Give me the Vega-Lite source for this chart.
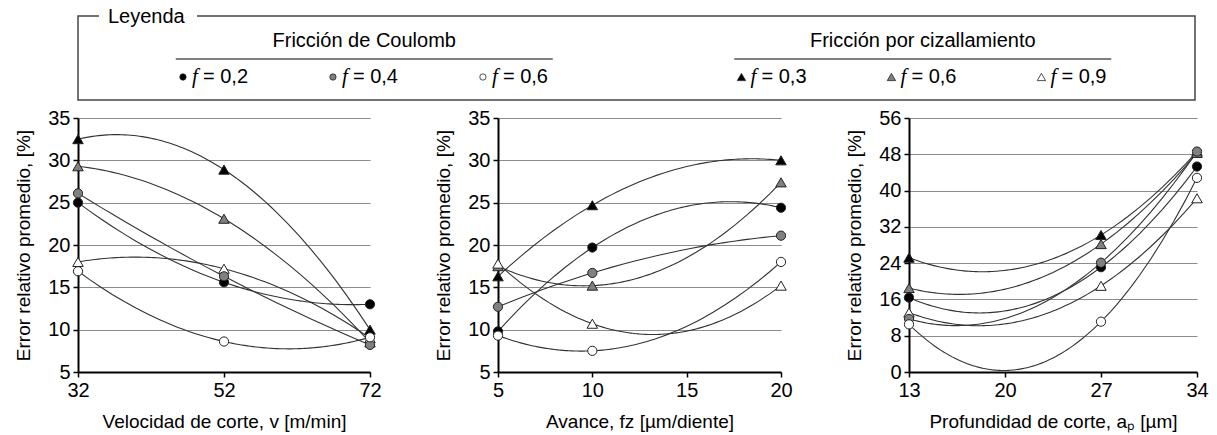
{
  "$schema": "https://vega.github.io/schema/vega-lite/v6.json",
  "padding": {"left": 14, "top": 6, "right": 4, "bottom": 2},
  "datasets": {
    "puntos": [
      {"panel": "v", "grupo": "Coulomb", "serie": "c02", "x": 32, "error": 25.0},
      {"panel": "v", "grupo": "Coulomb", "serie": "c02", "x": 52, "error": 15.6},
      {"panel": "v", "grupo": "Coulomb", "serie": "c02", "x": 72, "error": 13.0},
      {"panel": "v", "grupo": "Coulomb", "serie": "c04", "x": 32, "error": 26.1},
      {"panel": "v", "grupo": "Coulomb", "serie": "c04", "x": 52, "error": 16.3},
      {"panel": "v", "grupo": "Coulomb", "serie": "c04", "x": 72, "error": 8.2},
      {"panel": "v", "grupo": "Coulomb", "serie": "c06", "x": 32, "error": 16.9},
      {"panel": "v", "grupo": "Coulomb", "serie": "c06", "x": 52, "error": 8.6},
      {"panel": "v", "grupo": "Coulomb", "serie": "c06", "x": 72, "error": 9.1},
      {"panel": "v", "grupo": "Cizallamiento", "serie": "s03", "x": 32, "error": 32.5},
      {"panel": "v", "grupo": "Cizallamiento", "serie": "s03", "x": 52, "error": 28.9},
      {"panel": "v", "grupo": "Cizallamiento", "serie": "s03", "x": 72, "error": 10.0},
      {"panel": "v", "grupo": "Cizallamiento", "serie": "s06", "x": 32, "error": 29.3},
      {"panel": "v", "grupo": "Cizallamiento", "serie": "s06", "x": 52, "error": 23.1},
      {"panel": "v", "grupo": "Cizallamiento", "serie": "s06", "x": 72, "error": 8.5},
      {"panel": "v", "grupo": "Cizallamiento", "serie": "s09", "x": 32, "error": 18.0},
      {"panel": "v", "grupo": "Cizallamiento", "serie": "s09", "x": 52, "error": 17.2},
      {"panel": "v", "grupo": "Cizallamiento", "serie": "s09", "x": 72, "error": 9.0},

      {"panel": "fz", "grupo": "Coulomb", "serie": "c02", "x": 5, "error": 9.8},
      {"panel": "fz", "grupo": "Coulomb", "serie": "c02", "x": 10, "error": 19.7},
      {"panel": "fz", "grupo": "Coulomb", "serie": "c02", "x": 20, "error": 24.4},
      {"panel": "fz", "grupo": "Coulomb", "serie": "c04", "x": 5, "error": 12.7},
      {"panel": "fz", "grupo": "Coulomb", "serie": "c04", "x": 10, "error": 16.7},
      {"panel": "fz", "grupo": "Coulomb", "serie": "c04", "x": 20, "error": 21.1},
      {"panel": "fz", "grupo": "Coulomb", "serie": "c06", "x": 5, "error": 9.3},
      {"panel": "fz", "grupo": "Coulomb", "serie": "c06", "x": 10, "error": 7.5},
      {"panel": "fz", "grupo": "Coulomb", "serie": "c06", "x": 20, "error": 18.0},
      {"panel": "fz", "grupo": "Cizallamiento", "serie": "s03", "x": 5, "error": 16.3},
      {"panel": "fz", "grupo": "Cizallamiento", "serie": "s03", "x": 10, "error": 24.7},
      {"panel": "fz", "grupo": "Cizallamiento", "serie": "s03", "x": 20, "error": 30.0},
      {"panel": "fz", "grupo": "Cizallamiento", "serie": "s06", "x": 5, "error": 17.5},
      {"panel": "fz", "grupo": "Cizallamiento", "serie": "s06", "x": 10, "error": 15.2},
      {"panel": "fz", "grupo": "Cizallamiento", "serie": "s06", "x": 20, "error": 27.4},
      {"panel": "fz", "grupo": "Cizallamiento", "serie": "s09", "x": 5, "error": 17.8},
      {"panel": "fz", "grupo": "Cizallamiento", "serie": "s09", "x": 10, "error": 10.7},
      {"panel": "fz", "grupo": "Cizallamiento", "serie": "s09", "x": 20, "error": 15.2},

      {"panel": "ap", "grupo": "Coulomb", "serie": "c02", "x": 13, "error": 16.4},
      {"panel": "ap", "grupo": "Coulomb", "serie": "c02", "x": 27, "error": 23.1},
      {"panel": "ap", "grupo": "Coulomb", "serie": "c02", "x": 34, "error": 45.3},
      {"panel": "ap", "grupo": "Coulomb", "serie": "c04", "x": 13, "error": 11.7},
      {"panel": "ap", "grupo": "Coulomb", "serie": "c04", "x": 27, "error": 24.1},
      {"panel": "ap", "grupo": "Coulomb", "serie": "c04", "x": 34, "error": 48.6},
      {"panel": "ap", "grupo": "Coulomb", "serie": "c06", "x": 13, "error": 10.5},
      {"panel": "ap", "grupo": "Coulomb", "serie": "c06", "x": 27, "error": 11.1},
      {"panel": "ap", "grupo": "Coulomb", "serie": "c06", "x": 34, "error": 42.8},
      {"panel": "ap", "grupo": "Cizallamiento", "serie": "s03", "x": 13, "error": 25.2},
      {"panel": "ap", "grupo": "Cizallamiento", "serie": "s03", "x": 27, "error": 30.2},
      {"panel": "ap", "grupo": "Cizallamiento", "serie": "s03", "x": 34, "error": 48.6},
      {"panel": "ap", "grupo": "Cizallamiento", "serie": "s06", "x": 13, "error": 18.5},
      {"panel": "ap", "grupo": "Cizallamiento", "serie": "s06", "x": 27, "error": 28.2},
      {"panel": "ap", "grupo": "Cizallamiento", "serie": "s06", "x": 34, "error": 48.3},
      {"panel": "ap", "grupo": "Cizallamiento", "serie": "s09", "x": 13, "error": 13.1},
      {"panel": "ap", "grupo": "Cizallamiento", "serie": "s09", "x": 27, "error": 19.0},
      {"panel": "ap", "grupo": "Cizallamiento", "serie": "s09", "x": 34, "error": 38.3}
    ],
    "leyenda": [
      {"grupo": "Fricción de Coulomb", "serie": "c02", "nivel": "1", "etiqueta": "= 0,2"},
      {"grupo": "Fricción de Coulomb", "serie": "c04", "nivel": "2", "etiqueta": "= 0,4"},
      {"grupo": "Fricción de Coulomb", "serie": "c06", "nivel": "3", "etiqueta": "= 0,6"},
      {"grupo": "Fricción por cizallamiento", "serie": "s03", "nivel": "1", "etiqueta": "= 0,3"},
      {"grupo": "Fricción por cizallamiento", "serie": "s06", "nivel": "2", "etiqueta": "= 0,6"},
      {"grupo": "Fricción por cizallamiento", "serie": "s09", "nivel": "3", "etiqueta": "= 0,9"}
    ],
    "grupos": [
      {"grupo": "Fricción de Coulomb"},
      {"grupo": "Fricción por cizallamiento"}
    ]
  },
  "bounds": "flush",
  "spacing": 18,
  "vconcat": [
    {
      "width": 1117,
      "height": 84,
      "view": {"stroke": "#444444", "strokeWidth": 1.5, "strokeDash": [21, 98, 2500]},
      "title": {"text": "Leyenda", "anchor": "start", "dx": 30, "offset": -11, "fontSize": 20, "fontWeight": "normal", "font": "Liberation Sans", "color": "#000000"},
      "layer": [
        {
          "data": {"name": "grupos"},
          "mark": {"type": "text", "fontSize": 20, "dx": 7, "dy": -17, "baseline": "middle", "align": "center", "color": "#000000"},
          "encoding": {
            "x": {"field": "grupo", "type": "nominal", "axis": null, "scale": {"type": "band", "domain": ["Fricción de Coulomb", "Fricción por cizallamiento"], "paddingInner": 0, "paddingOuter": 0}},
            "text": {"field": "grupo"}
          }
        },
        {
          "data": {"name": "grupos"},
          "mark": {"type": "tick", "orient": "horizontal", "size": 377, "thickness": 1.5, "color": "#555555", "opacity": 1, "xOffset": 7, "yOffset": 1},
          "encoding": {
            "x": {"field": "grupo", "type": "nominal", "axis": null}
          }
        },
        {
          "data": {"name": "leyenda"},
          "transform": [{"filter": "datum.grupo == 'Fricción de Coulomb'"}],
          "mark": {"type": "point", "shape": "circle", "size": 40, "filled": true, "stroke": "#222222", "strokeWidth": 0.8, "opacity": 1, "yOffset": 19},
          "encoding": {
            "x": {"field": "grupo", "type": "nominal", "axis": null},
            "xOffset": {"field": "nivel", "type": "ordinal", "scale": {"type": "point", "padding": 0.862, "align": 0.406}},
            "fill": {"field": "serie", "type": "nominal", "legend": null, "scale": {"domain": ["c02", "c04", "c06", "s03", "s06", "s09"], "range": ["#000000", "#808080", "#ffffff", "#000000", "#808080", "#ffffff"]}}
          }
        },
        {
          "data": {"name": "leyenda"},
          "transform": [{"filter": "datum.grupo == 'Fricción por cizallamiento'"}],
          "mark": {"type": "point", "shape": "triangle-up", "size": 70, "filled": true, "stroke": "#222222", "strokeWidth": 0.8, "opacity": 1, "yOffset": 19},
          "encoding": {
            "x": {"field": "grupo", "type": "nominal", "axis": null},
            "xOffset": {"field": "nivel", "type": "ordinal", "scale": {"type": "point", "padding": 0.862, "align": 0.406}},
            "fill": {"field": "serie", "type": "nominal", "legend": null, "scale": {"domain": ["c02", "c04", "c06", "s03", "s06", "s09"], "range": ["#000000", "#808080", "#ffffff", "#000000", "#808080", "#ffffff"]}}
          }
        },
        {
          "data": {"name": "leyenda"},
          "mark": {"type": "text", "text": "f", "font": "Liberation Serif", "fontStyle": "italic", "fontSize": 21, "align": "left", "baseline": "middle", "dx": 9, "dy": 19, "color": "#000000"},
          "encoding": {
            "x": {"field": "grupo", "type": "nominal", "axis": null},
            "xOffset": {"field": "nivel", "type": "ordinal", "scale": {"type": "point", "padding": 0.862, "align": 0.406}}
          }
        },
        {
          "data": {"name": "leyenda"},
          "mark": {"type": "text", "fontSize": 20, "align": "left", "baseline": "middle", "dx": 20, "dy": 19, "color": "#000000"},
          "encoding": {
            "x": {"field": "grupo", "type": "nominal", "axis": null},
            "xOffset": {"field": "nivel", "type": "ordinal", "scale": {"type": "point", "padding": 0.862, "align": 0.406}},
            "text": {"field": "etiqueta"}
          }
        }
      ]
    },
    {
      "bounds": "flush",
      "spacing": 128,
      "hconcat": [
        {
          "width": 292,
          "height": 254,
          "data": {"name": "puntos"},
          "transform": [{"filter": "datum.panel == 'v'"}],
          "encoding": {
            "x": {"field": "x", "type": "quantitative", "title": "Velocidad de corte, v [m/min]", "scale": {"domain": [32, 72], "nice": false, "zero": false}, "axis": {"values": [32, 52, 72]}},
            "y": {"field": "error", "type": "quantitative", "title": "Error relativo promedio, [%]", "scale": {"domain": [5, 35], "nice": false, "zero": false}, "axis": {"values": [5, 10, 15, 20, 25, 30, 35]}}
          },
          "layer": [
            {
              "transform": [{"regression": "error", "on": "x", "groupby": ["serie"], "method": "poly", "order": 2}],
              "mark": {"type": "line", "color": "#333333", "strokeWidth": 1.1},
              "encoding": {"detail": {"field": "serie"}}
            },
            {
              "transform": [{"filter": "datum.grupo == 'Cizallamiento'"}],
              "mark": {"type": "point", "shape": "triangle-up", "size": 110, "filled": true, "stroke": "#222222", "strokeWidth": 1, "opacity": 1},
              "encoding": {"fill": {"field": "serie", "type": "nominal", "legend": null, "scale": {"domain": ["c02", "c04", "c06", "s03", "s06", "s09"], "range": ["#000000", "#808080", "#ffffff", "#000000", "#808080", "#ffffff"]}}}
            },
            {
              "transform": [{"filter": "datum.grupo == 'Coulomb'"}],
              "mark": {"type": "point", "shape": "circle", "size": 85, "filled": true, "stroke": "#222222", "strokeWidth": 1, "opacity": 1},
              "encoding": {"fill": {"field": "serie", "type": "nominal", "legend": null, "scale": {"domain": ["c02", "c04", "c06", "s03", "s06", "s09"], "range": ["#000000", "#808080", "#ffffff", "#000000", "#808080", "#ffffff"]}}}
            }
          ]
        },
        {
          "width": 283,
          "height": 254,
          "data": {"name": "puntos"},
          "transform": [{"filter": "datum.panel == 'fz'"}],
          "encoding": {
            "x": {"field": "x", "type": "quantitative", "title": "Avance, fz [µm/diente]", "scale": {"domain": [5, 20], "nice": false, "zero": false}, "axis": {"values": [5, 10, 15, 20]}},
            "y": {"field": "error", "type": "quantitative", "title": "Error relativo promedio, [%]", "scale": {"domain": [5, 35], "nice": false, "zero": false}, "axis": {"values": [5, 10, 15, 20, 25, 30, 35]}}
          },
          "layer": [
            {
              "transform": [{"regression": "error", "on": "x", "groupby": ["serie"], "method": "poly", "order": 2}],
              "mark": {"type": "line", "color": "#333333", "strokeWidth": 1.1},
              "encoding": {"detail": {"field": "serie"}}
            },
            {
              "transform": [{"filter": "datum.grupo == 'Cizallamiento'"}],
              "mark": {"type": "point", "shape": "triangle-up", "size": 110, "filled": true, "stroke": "#222222", "strokeWidth": 1, "opacity": 1},
              "encoding": {"fill": {"field": "serie", "type": "nominal", "legend": null, "scale": {"domain": ["c02", "c04", "c06", "s03", "s06", "s09"], "range": ["#000000", "#808080", "#ffffff", "#000000", "#808080", "#ffffff"]}}}
            },
            {
              "transform": [{"filter": "datum.grupo == 'Coulomb'"}],
              "mark": {"type": "point", "shape": "circle", "size": 85, "filled": true, "stroke": "#222222", "strokeWidth": 1, "opacity": 1},
              "encoding": {"fill": {"field": "serie", "type": "nominal", "legend": null, "scale": {"domain": ["c02", "c04", "c06", "s03", "s06", "s09"], "range": ["#000000", "#808080", "#ffffff", "#000000", "#808080", "#ffffff"]}}}
            }
          ]
        },
        {
          "width": 288,
          "height": 254,
          "data": {"name": "puntos"},
          "transform": [{"filter": "datum.panel == 'ap'"}],
          "encoding": {
            "x": {"field": "x", "type": "quantitative", "title": "Profundidad de corte, aₚ [µm]", "scale": {"domain": [13, 34], "nice": false, "zero": false}, "axis": {"values": [13, 20, 27, 34]}},
            "y": {"field": "error", "type": "quantitative", "title": "Error relativo promedio, [%]", "scale": {"domain": [0, 56], "nice": false, "zero": false}, "axis": {"values": [0, 8, 16, 24, 32, 40, 48, 56]}}
          },
          "layer": [
            {
              "transform": [{"regression": "error", "on": "x", "groupby": ["serie"], "method": "poly", "order": 2}],
              "mark": {"type": "line", "color": "#333333", "strokeWidth": 1.1},
              "encoding": {"detail": {"field": "serie"}}
            },
            {
              "transform": [{"filter": "datum.grupo == 'Cizallamiento'"}],
              "mark": {"type": "point", "shape": "triangle-up", "size": 110, "filled": true, "stroke": "#222222", "strokeWidth": 1, "opacity": 1},
              "encoding": {"fill": {"field": "serie", "type": "nominal", "legend": null, "scale": {"domain": ["c02", "c04", "c06", "s03", "s06", "s09"], "range": ["#000000", "#808080", "#ffffff", "#000000", "#808080", "#ffffff"]}}}
            },
            {
              "transform": [{"filter": "datum.grupo == 'Coulomb'"}],
              "mark": {"type": "point", "shape": "circle", "size": 85, "filled": true, "stroke": "#222222", "strokeWidth": 1, "opacity": 1},
              "encoding": {"fill": {"field": "serie", "type": "nominal", "legend": null, "scale": {"domain": ["c02", "c04", "c06", "s03", "s06", "s09"], "range": ["#000000", "#808080", "#ffffff", "#000000", "#808080", "#ffffff"]}}}
            }
          ]
        }
      ]
    }
  ],
  "config": {
    "font": "Liberation Sans",
    "view": {"stroke": null},
    "text": {"font": "Liberation Sans"},
    "axis": {
      "labelFont": "Liberation Sans", "labelFontSize": 20, "labelColor": "#000000",
      "titleFont": "Liberation Sans", "titleFontSize": 19, "titleFontWeight": "normal", "titleColor": "#000000",
      "domainColor": "#000000", "domainWidth": 2, "tickColor": "#000000", "tickWidth": 1.5, "tickSize": 5,
      "gridColor": "#8c8c8c", "gridWidth": 1.2, "labelPadding": 3
    },
    "axisX": {"grid": false, "labelFlush": false, "titlePadding": 12},
    "axisY": {"grid": true, "titlePadding": 14}
  }
}
